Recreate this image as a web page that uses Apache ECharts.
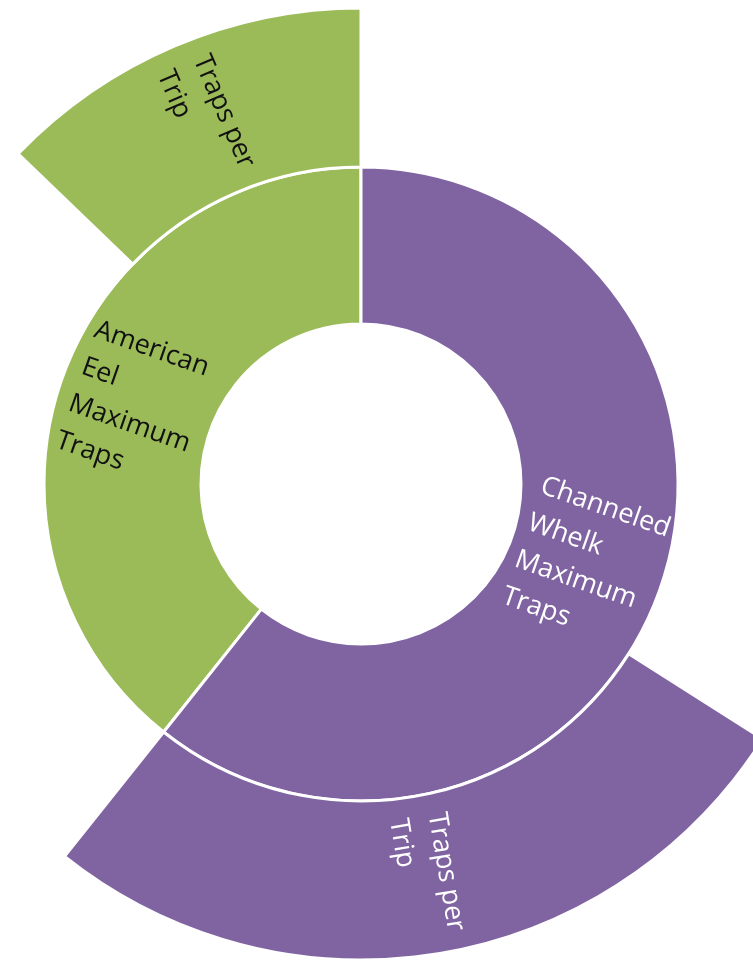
<!DOCTYPE html>
<html>
<head>
<meta charset="utf-8">
<script src="https://cdn.jsdelivr.net/npm/echarts@6/dist/echarts.min.js"></script>
<style>
  html, body { margin: 0; padding: 0; background: #ffffff; }
  #chart { width: 753px; height: 961px; }
</style>
</head>
<body>
<div id="chart"></div>
<script>
// Inner ring: maximum traps per species
const speciesLabels = ['American\nEel\nMaximum\nTraps', 'Channeled\nWhelk\nMaximum\nTraps'];
const speciesValues = [39.3, 60.7];
// Outer ring: traps per trip for each species
const tripLabels = ['Traps per\nTrip', 'Traps per\nTrip'];
const tripValues = [12.8, 26.7];

const fillColors = ['#9BBB59', '#8064A2'];
const textColors = ['#111111', '#ffffff'];

const chart = echarts.init(document.getElementById('chart'), null, { renderer: 'canvas' });

const FONT = 'Open Sans';
const labelText = p => p.name.split('\n').map(s => '{t|' + s + '}').join('\n');

const data = speciesLabels.map((name, i) => ({
  name: name,
  value: speciesValues[i],
  itemStyle: { color: fillColors[i] },
  label: { color: textColors[i] },
  children: [{
    name: tripLabels[i],
    value: tripValues[i],
    itemStyle: { color: fillColors[i] },
    label: { color: textColors[i] }
  }]
}));

chart.setOption({
  backgroundColor: '#ffffff',
  animation: false,
  series: [{
    type: 'sunburst',
    center: [361, 484],
    startAngle: 90,
    clockwise: false,
    sort: null,
    nodeClick: false,
    emphasis: { focus: 'none' },
    itemStyle: { borderColor: '#ffffff', borderWidth: 3 },
    label: {
      rotate: 'radial',
      formatter: labelText,
      fontFamily: FONT,
      fontSize: 27,
      lineHeight: 39,
      rich: {
        t: { align: 'left', fontFamily: FONT, fontSize: 27, lineHeight: 39 }
      }
    },
    levels: [
      {},
      { r0: 160, r: 317 },
      { r0: 317, r: 476 }
    ],
    data: data
  }]
});
</script>
</body>
</html>
